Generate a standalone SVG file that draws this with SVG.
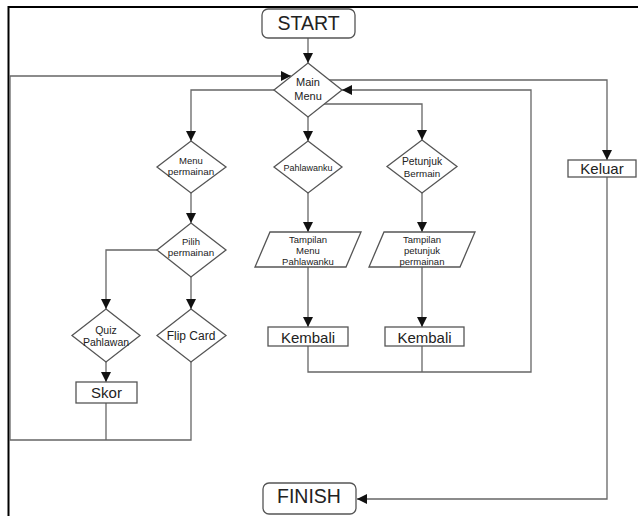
<svg xmlns="http://www.w3.org/2000/svg" width="638" height="516" viewBox="0 0 638 516">
<defs>
<style>
.shape{fill:#fff;stroke:#555;stroke-width:1.3}
.c{fill:none;stroke:#666;stroke-width:1.3}
text{font-family:"Liberation Sans",Arial,sans-serif;fill:#222;text-anchor:middle}
</style>
<marker id="ah" markerUnits="userSpaceOnUse" markerWidth="10" markerHeight="10" viewBox="0 0 10 10" refX="10" refY="5" orient="auto">
<path d="M0,0 L10,5 L0,10 Z" fill="#111"/>
</marker>
</defs>
<rect width="638" height="516" fill="#fff"/>
<path d="M8.5,516 V7 H638" fill="none" stroke="#000" stroke-width="2"/>

<g id="connectors">
<path class="c" d="M308,38 V63" marker-end="url(#ah)"/>
<path class="c" d="M274,90 H191 V141" marker-end="url(#ah)"/>
<path class="c" d="M308,117 V141" marker-end="url(#ah)"/>
<path class="c" d="M324,104 H422 V140" marker-end="url(#ah)"/>
<path class="c" d="M329,80 H607 V160" marker-end="url(#ah)"/>
<path class="c" d="M191,193 V223" marker-end="url(#ah)"/>
<path class="c" d="M157,250 H106 V309" marker-end="url(#ah)"/>
<path class="c" d="M191,277 V309" marker-end="url(#ah)"/>
<path class="c" d="M106,362 V382" marker-end="url(#ah)"/>
<path class="c" d="M106,403 V440"/>
<path class="c" d="M191,362 V440 H10 V76 H291" marker-end="url(#ah)"/>
<path class="c" d="M308,193 V232" marker-end="url(#ah)"/>
<path class="c" d="M308,267 V327" marker-end="url(#ah)"/>
<path class="c" d="M422,193 V232" marker-end="url(#ah)"/>
<path class="c" d="M422,267 V327" marker-end="url(#ah)"/>
<path class="c" d="M308,346 V372 H531 V90 H342" marker-end="url(#ah)"/>
<path class="c" d="M422,346 V372"/>
<path class="c" d="M607,177 V499 H357" marker-end="url(#ah)"/>
</g>

<g id="start">
<rect class="shape" x="262" y="9" width="93" height="29" rx="6"/>
<text x="308.5" y="30" font-size="19.5">START</text>
</g>
<g id="main-menu">
<polygon class="shape" points="308,63 342,90 308,117 274,90"/>
<text x="308" y="86" font-size="11">Main</text>
<text x="308" y="100" font-size="11">Menu</text>
</g>
<g id="menu-permainan">
<polygon class="shape" points="191,141 226,167 191,193 157,167"/>
<text x="191" y="163.5" font-size="9.5">Menu</text>
<text x="191" y="174.5" font-size="9.8">permainan</text>
</g>
<g id="pilih-permainan">
<polygon class="shape" points="191,223 226,250 191,277 157,250"/>
<text x="191" y="245" font-size="9.5">Pilih</text>
<text x="191" y="256" font-size="9.8">permainan</text>
</g>
<g id="pahlawanku">
<polygon class="shape" points="308,141 342,167 308,193 274,167"/>
<text x="308" y="170.5" font-size="9">Pahlawanku</text>
</g>
<g id="petunjuk-bermain">
<polygon class="shape" points="422,140 457,166.5 422,193 387,166.5"/>
<text x="422" y="165" font-size="10.3">Petunjuk</text>
<text x="422" y="177" font-size="9.8">Bermain</text>
</g>
<g id="tampilan-menu-pahlawanku">
<polygon class="shape" points="270,232 361,232 346,267 255,267"/>
<text x="308" y="242.5" font-size="9.5">Tampilan</text>
<text x="308" y="253.5" font-size="9.5">Menu</text>
<text x="308" y="265" font-size="9.5">Pahlawanku</text>
</g>
<g id="tampilan-petunjuk-permainan">
<polygon class="shape" points="384,232 475,232 460,267 369,267"/>
<text x="422" y="242.5" font-size="9.5">Tampilan</text>
<text x="422" y="253.5" font-size="9.5">petunjuk</text>
<text x="422" y="265" font-size="9.5">permainan</text>
</g>
<g id="quiz-pahlawan">
<polygon class="shape" points="106,309 140,335.5 106,362 72,335.5"/>
<text x="106" y="333.5" font-size="10.5">Quiz</text>
<text x="106" y="345.5" font-size="10.5">Pahlawan</text>
</g>
<g id="flip-card">
<polygon class="shape" points="191,309 226,335.5 191,362 157,335.5"/>
<text x="191" y="340" font-size="12">Flip Card</text>
</g>
<g id="skor">
<rect class="shape" x="76" y="382" width="61" height="21"/>
<text x="106.5" y="398" font-size="15">Skor</text>
</g>
<g id="kembali-1">
<rect class="shape" x="268" y="327" width="80" height="19"/>
<text x="308" y="342.5" font-size="15">Kembali</text>
</g>
<g id="kembali-2">
<rect class="shape" x="385" y="327" width="79" height="19"/>
<text x="424.5" y="342.5" font-size="15">Kembali</text>
</g>
<g id="keluar">
<rect class="shape" x="568" y="160" width="68" height="17"/>
<text x="602" y="174" font-size="15">Keluar</text>
</g>
<g id="finish">
<rect class="shape" x="263" y="483" width="93" height="31" rx="6"/>
<text x="309" y="503" font-size="19.5">FINISH</text>
</g>
</svg>
